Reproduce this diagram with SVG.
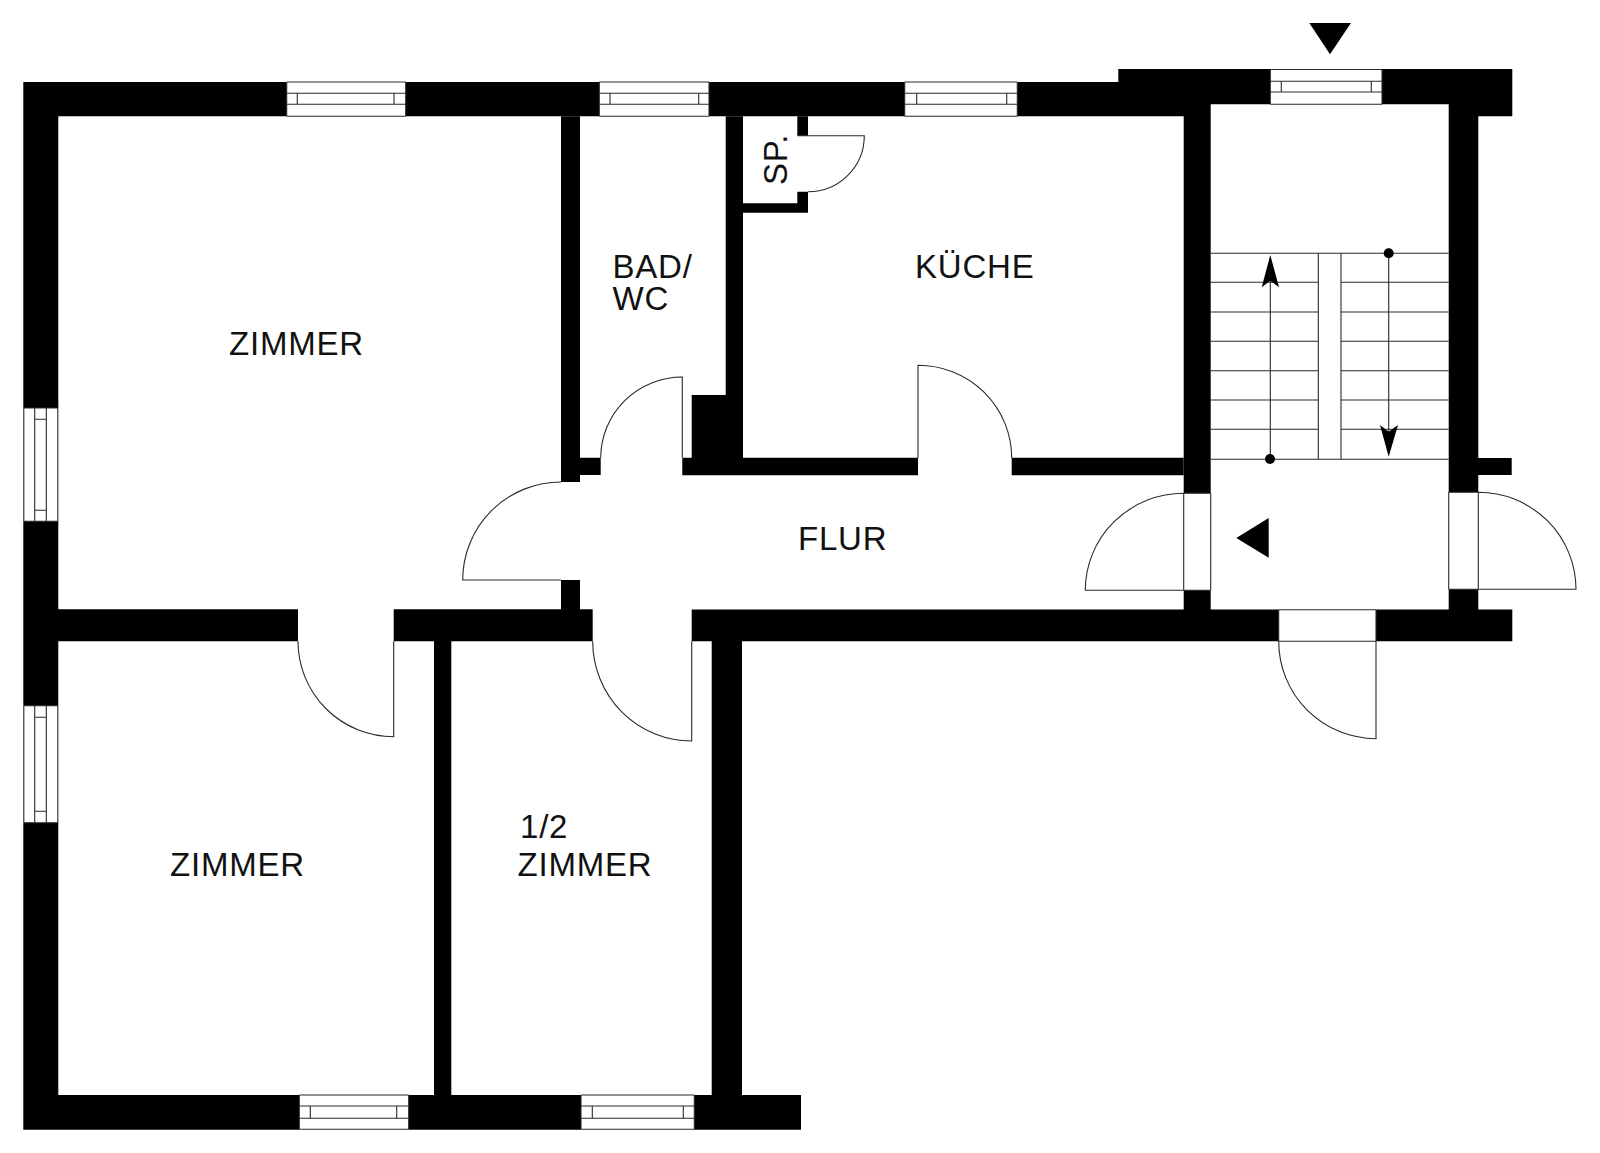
<svg xmlns="http://www.w3.org/2000/svg" width="1600" height="1153" viewBox="0 0 1600 1153">
<style>
.w{fill:#000;stroke:none}
.l{fill:none;stroke:#2a2a2a;stroke-width:1.1}
.f{fill:#000;stroke:none}
text{font-family:"Liberation Sans",Arial,sans-serif;font-size:33px;letter-spacing:0.8px;fill:#111}
</style>
<rect width="1600" height="1153" fill="#fff"/>
<g id="walls" class="w">
<path d="M23.3 82H286.7V116.3H58.3V408H23.3ZM405.7 82H599.3V116.3H405.7ZM709 82H904.7V116.3H709ZM1017.3 82H1118.3V69H1270.3V104.3H1210.7V493.3H1183.7V116.3H1017.3ZM1382 69H1512.3V116.3H1478.3V458H1511.7V475H1478.3V492.3H1448.7V104.3H1382Z"/>
<path d="M23.3 521.3H58.3V609.3H298V641.3H58.3V705.7H23.3ZM393.7 609.3H561V580H580V609.3H592.7V641.3H451.3V1095H581V1129.7H408.7V1095H434V641.3H393.7ZM23.3 822.7H58.3V1095H299.3V1129.7H23.3ZM694.3 1095H711.7V641.3H691.7V609.6H1183.7V590.3H1210.7V609.6H1278.7V641.3H742V1095H801V1129.7H694.3ZM1376 609.6H1448.7V589.3H1478.3V609.6H1512.3V641.3H1376Z"/>
<path d="M561 116.3H580V457.7H600.7V475H580V482H561ZM725.7 116.3H743V203.3H797.3V191.7H808V212.7H743V457.7H918V475.3H682.3V457.7H691.7V395H725.7ZM797.3 116.3H808V135.7H797.3ZM1011.7 457.7H1183.7V475.3H1011.7Z"/>
</g>
<g id="windows" class="l">
<path d="M286.7 82H405.7M286.7 93.3H405.7M286.7 104.3H405.7M286.7 116.3H405.7M286.7 82V116.3M405.7 82V116.3M297.3 93.3V104.3M394 93.3V104.3"/>
<path d="M599.3 82H709M599.3 93.3H709M599.3 104.3H709M599.3 116.3H709M599.3 82V116.3M709 82V116.3M610 93.3V104.3M698.7 93.3V104.3"/>
<path d="M904.7 82H1017.3M904.7 93.3H1017.3M904.7 104.3H1017.3M904.7 116.3H1017.3M904.7 82V116.3M1017.3 82V116.3M916.7 93.3V104.3M1006.7 93.3V104.3"/>
<path d="M1270.3 69.5H1382M1270.3 81.3H1382M1270.3 92H1382M1270.3 104.3H1382M1270.3 69V104.3M1382 69V104.3M1281.3 81.3V92M1371.3 81.3V92"/>
<path d="M23.8 408H58.3M23.8 521.3H58.3M23.8 408V521.3M34.7 408V521.3M46.3 408V521.3M57.8 408V521.3M34.7 419.3H46.3M34.7 510.3H46.3"/>
<path d="M23.8 705.7H58.3M23.8 822.7H58.3M23.8 705.7V822.7M34.7 705.7V822.7M46.3 705.7V822.7M57.8 705.7V822.7M34.7 717.3H46.3M34.7 811.3H46.3"/>
<path d="M299.3 1095H408.7M299.3 1106H408.7M299.3 1118.3H408.7M299.3 1129.2H408.7M299.3 1095V1129.7M408.7 1095V1129.7M310.3 1106V1118.3M396.7 1106V1118.3"/>
<path d="M581 1095H694.3M581 1106H694.3M581 1118.3H694.3M581 1129.2H694.3M581 1095V1129.7M694.3 1095V1129.7M592.3 1106V1118.3M683.3 1106V1118.3"/>
</g>
<g id="doors" class="l">
<path d="M600.7 457.7A81.6 81 0 0 1 682.3 377V457.7"/>
<path d="M561 482A98.3 98 0 0 0 462.7 580H561"/>
<path d="M592.7 641.3A99 99.7 0 0 0 691.7 741V641.3"/>
<path d="M298 641.3A95.7 95.4 0 0 0 393.7 736.7V641.3"/>
<path d="M918 458V365.3A93.7 92.7 0 0 1 1011.7 458"/>
<path d="M797.3 135.7H864.3A56.3 56 0 0 1 808 191.7"/>
<path d="M1183.7 493.3A98.4 97 0 0 0 1085.3 590.3H1210.7M1183.7 493.3H1210.7M1183.7 493.3V590.3M1210.7 493.3V590.3"/>
<path d="M1478.3 492.3A97.7 97 0 0 1 1576 589.3H1448.7M1448.7 492.3H1478.3M1448.7 492.3V589.3M1478.3 492.3V589.3"/>
<path d="M1278.7 641.3A97.3 97.4 0 0 0 1376 738.7V641.3M1278.7 609.7H1376M1278.7 641.3H1376M1278.7 609.7V641.3M1376 609.7V641.3"/>
</g>
<g id="stairs">
<path class="l" d="M1210.7 253.3H1448.7M1210.7 459.3H1448.7M1318.3 253.3V459.3M1341 253.3V459.3M1210.7 282.3H1318.3M1341 282.3H1448.7M1210.7 312H1318.3M1341 312H1448.7M1210.7 341.3H1318.3M1341 341.3H1448.7M1210.7 370.7H1318.3M1341 370.7H1448.7M1210.7 400H1318.3M1341 400H1448.7M1210.7 429.3H1318.3M1341 429.3H1448.7M1270.3 459V275M1388.7 253V440"/>
<polygon class="f" points="1270.3,255 1279,287.3 1270.3,280.7 1261.7,287.3"/>
<polygon class="f" points="1388.7,456.7 1398,425 1388.7,431.7 1380,425"/>
<circle class="f" cx="1270" cy="459" r="5"/>
<circle class="f" cx="1388.7" cy="253.3" r="5"/>
</g>
<g id="entry-markers">
<polygon class="f" points="1309.3,23 1351,23 1330,54.3"/>
<polygon class="f" points="1236.3,538 1268.7,518 1268.7,557.7"/>
</g>
<g id="labels">
<text x="229" y="354.5">ZIMMER</text>
<text x="170" y="876">ZIMMER</text>
<text x="520" y="838">1/2</text>
<text x="517.5" y="876">ZIMMER</text>
<text x="612.5" y="278">BAD/</text>
<text x="612.5" y="310">WC</text>
<text x="915" y="278">KÜCHE</text>
<text x="798" y="550">FLUR</text>
<text transform="translate(786.5 185) rotate(-90)">SP.</text>
</g>
</svg>
